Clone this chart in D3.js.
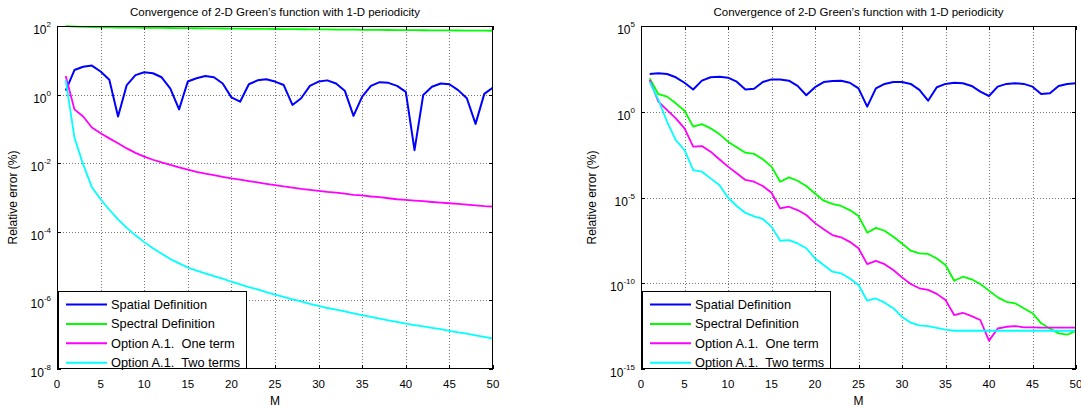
<!DOCTYPE html>
<html>
<head>
<meta charset="utf-8">
<script src="https://cdn.jsdelivr.net/npm/d3@7/dist/d3.min.js"></script>
<style>
  html, body { margin: 0; padding: 0; background: #fff; }
  svg { display: block; }
  text { font-family: "Liberation Sans", Arial, Helvetica, sans-serif; fill: #000; }
</style>
</head>
<body>
<svg id="chart" width="1081" height="408"></svg>
<script>
(function() {

  // ---- data ----
  const mValues = [1, 2, 3, 4, 5, 6, 7, 8, 9, 10, 11, 12, 13, 14, 15, 16, 17, 18, 19, 20,
    21, 22, 23, 24, 25, 26, 27, 28, 29, 30, 31, 32, 33, 34, 35, 36, 37, 38, 39, 40,
    41, 42, 43, 44, 45, 46, 47, 48, 49, 50];

  const seriesNames = ['Spatial Definition', 'Spectral Definition', 'Option A.1.  One term', 'Option A.1.  Two terms'];
  const seriesColors = ['#0000ff', '#00ff00', '#ff00ff', '#00ffff'];

  const xTicks = [0, 5, 10, 15, 20, 25, 30, 35, 40, 45, 50];
  const leftYTicks = [2, 0, -2, -4, -6, -8];      // exponents
  const rightYTicks = [5, 0, -5, -10, -15];

  const leftSpatial = [1.3, 5.2, 6.5, 7.0, 4.7, 2.7, 0.23, 1.9, 3.7, 4.5,
    4.2, 3.2, 1.5, 0.37, 2.4, 3.0, 3.5, 3.2, 2.1, 0.83,
    0.62, 2.0, 2.6, 2.8, 2.4, 1.9, 0.50, 0.78, 1.8, 2.4,
    2.6, 2.1, 1.3, 0.24, 0.87, 1.8, 2.3, 2.2, 1.8, 1.2,
    0.024, 0.98, 1.7, 2.1, 2.0, 1.35, 0.78, 0.14, 1.05, 1.6];
  const leftSpectral = [99, 96, 94, 93, 92, 91, 90.5, 90, 89.5, 89,
    88.5, 88, 87.5, 87, 86.5, 86, 85.5, 85, 84.5, 84,
    83.5, 83, 82.5, 82, 81.8, 81.5, 81, 80.5, 80, 79.6,
    79.2, 78.8, 78.4, 78, 77.6, 77.2, 76.8, 76.4, 76, 75.7,
    75.4, 75.1, 74.8, 74.5, 74.2, 73.9, 73.6, 73.3, 73.0, 72.8];
  const leftOneTerm = [3.5, 0.37, 0.23, 0.11, 0.075, 0.053, 0.038, 0.027, 0.020, 0.0156,
    0.0126, 0.0105, 0.0089, 0.0076, 0.0065, 0.0056, 0.0050, 0.0045, 0.0040, 0.0036,
    0.0033, 0.0030, 0.00275, 0.0025, 0.0023, 0.0021, 0.00195, 0.00178, 0.00166, 0.00155,
    0.00145, 0.00138, 0.00129, 0.0012, 0.00115, 0.00107, 0.00102, 0.00095, 0.00089, 0.00085,
    0.00081, 0.00078, 0.00074, 0.00071, 0.00068, 0.00065, 0.00062, 0.00059, 0.00056, 0.00054];
  const leftTwoTerms = [2.7, 0.056, 0.0091, 0.0020, 0.00089, 0.00044, 0.00023, 0.00013, 7.9e-5, 5.0e-5,
    3.3e-5, 2.3e-5, 1.6e-5, 1.2e-5, 9.1e-6, 7.4e-6, 6.1e-6, 5.1e-6, 4.3e-6, 3.5e-6,
    2.95e-6, 2.45e-6, 2.1e-6, 1.74e-6, 1.47e-6, 1.26e-6, 1.07e-6, 9.3e-7, 7.9e-7, 6.9e-7,
    6.0e-7, 5.4e-7, 4.8e-7, 4.2e-7, 3.7e-7, 3.3e-7, 2.95e-7, 2.6e-7, 2.35e-7, 2.1e-7,
    1.9e-7, 1.74e-7, 1.58e-7, 1.45e-7, 1.3e-7, 1.17e-7, 1.07e-7, 9.5e-8, 8.7e-8, 7.7e-8];

  const rightSpatial = [158, 174, 158, 102, 49, 20, 65, 102, 110, 97,
    57, 20, 22, 54, 77, 77, 65, 32, 9.1, 27,
    54, 62, 65, 49, 23, 2.0, 23, 42, 54, 54,
    42, 19, 4.4, 27, 42, 49, 46, 32, 15, 8.3,
    29, 42, 46, 42, 29, 10.7, 12, 32, 42, 46];
  const rightSpectral = [89, 10.5, 7.6, 3.1, 1.15, 0.135, 0.19, 0.108, 0.050, 0.018,
    0.0085, 0.0041, 0.0035, 0.0017, 6.3e-4, 8.3e-5, 1.5e-4, 9.5e-5, 4.7e-5, 1.7e-5,
    6.5e-6, 4.2e-6, 3.2e-6, 1.85e-6, 8.3e-7, 8.9e-8, 1.7e-7, 1.15e-7, 5.1e-8, 2.1e-8,
    7.9e-9, 5.5e-9, 5.1e-9, 2.8e-9, 1.15e-9, 1.4e-10, 2.4e-10, 1.7e-10, 9.1e-11, 3.7e-11,
    1.5e-11, 8.3e-12, 6.8e-12, 3.5e-12, 1.8e-12, 4.6e-13, 2.3e-13, 1.2e-13, 1.0e-13, 1.7e-13];
  const rightOneTerm = [71, 3.9, 1.26, 0.41, 0.108, 0.0092, 0.010, 0.0047, 0.0017, 6.3e-4,
    2.6e-4, 1.05e-4, 8.3e-5, 4.7e-5, 1.9e-5, 2.3e-6, 2.9e-6, 1.85e-6, 9.5e-7, 3.2e-7,
    1.4e-7, 6.5e-8, 4.8e-8, 2.6e-8, 1.1e-8, 1.3e-9, 2.0e-9, 1.3e-9, 5.9e-10, 2.2e-10,
    9.1e-11, 5.1e-11, 4.1e-11, 2.4e-11, 1.05e-11, 1.4e-12, 1.9e-12, 1.2e-12, 7.2e-13, 4.5e-14,
    2.3e-13, 2.9e-13, 3.2e-13, 2.7e-13, 2.7e-13, 2.6e-13, 2.6e-13, 2.6e-13, 2.6e-13, 2.6e-13];
  const rightTwoTerms = [56, 4.9, 0.26, 0.022, 0.0059, 4.0e-4, 3.2e-4, 1.3e-4, 5.4e-5, 1.0e-5,
    3.2e-6, 1.26e-6, 8.0e-7, 5.6e-7, 2.0e-7, 3.0e-8, 3.3e-8, 2.1e-8, 1.1e-8, 2.8e-9,
    1.15e-9, 4.7e-10, 3.8e-10, 1.9e-10, 7.9e-11, 9.6e-12, 1.3e-11, 7.4e-12, 3.5e-12, 1.1e-12,
    5.0e-13, 3.5e-13, 3.2e-13, 2.5e-13, 2.0e-13, 1.7e-13, 1.7e-13, 1.7e-13, 1.7e-13, 1.7e-13,
    1.7e-13, 1.7e-13, 1.7e-13, 1.7e-13, 1.7e-13, 1.7e-13, 1.7e-13, 1.7e-13, 1.7e-13, 1.7e-13];

  const titleText = 'Convergence of 2-D Green\u2019s function with 1-D periodicity';

  const svg = d3.select('#chart');

  function drawPanel(box, yExps, series) {
    const g = svg.append('g');
    const x = d3.scaleLinear().domain([0, 50]).range([box.left, box.right]);
    const y = d3.scaleLog()
      .domain([Math.pow(10, yExps[yExps.length - 1]), Math.pow(10, yExps[0])])
      .range([box.bottom, box.top]);

    // grid (dotted, MATLAB style)
    const grid = g.append('g').attr('stroke', '#777').attr('stroke-width', 1)
      .attr('stroke-dasharray', '1,2');
    xTicks.slice(1, -1).forEach((t) => {
      grid.append('line')
        .attr('x1', Math.round(x(t)) + 0.5).attr('x2', Math.round(x(t)) + 0.5)
        .attr('y1', box.top).attr('y2', box.bottom);
    });
    yExps.slice(1, -1).forEach((e) => {
      const yy = Math.round(y(Math.pow(10, e))) + 0.5;
      grid.append('line').attr('x1', box.left).attr('x2', box.right)
        .attr('y1', yy).attr('y2', yy);
    });

    // series lines
    const clipId = 'clip' + box.left;
    svg.append('defs').append('clipPath').attr('id', clipId)
      .append('rect').attr('x', box.left).attr('y', box.top - 1)
      .attr('width', box.right - box.left).attr('height', box.bottom - box.top + 1);

    const line = d3.line()
      .x((d, i) => x(mValues[i]))
      .y((d) => y(d));

    const lines = g.append('g').attr('clip-path', `url(#${clipId})`);
    series.forEach((s, i) => {
      lines.append('path')
        .datum(s)
        .attr('d', line)
        .attr('fill', 'none')
        .attr('stroke', seriesColors[i])
        .attr('stroke-width', i === 0 ? 2 : 1.8)
        .attr('stroke-linejoin', 'round');
    });

    // axes box + inward ticks
    const axisG = g.append('g').attr('stroke', '#000').attr('stroke-width', 1);
    axisG.append('rect')
      .attr('x', box.left + 0.5).attr('y', box.top + 0.5)
      .attr('width', box.right - box.left - 1).attr('height', box.bottom - box.top - 1)
      .attr('fill', 'none');
    xTicks.forEach((t) => {
      const xx = Math.round(x(t)) + 0.5;
      axisG.append('line').attr('x1', xx).attr('x2', xx).attr('y1', box.bottom).attr('y2', box.bottom - 4);
      axisG.append('line').attr('x1', xx).attr('x2', xx).attr('y1', box.top).attr('y2', box.top + 4);
    });
    yExps.forEach((e) => {
      const yy = Math.round(y(Math.pow(10, e))) + 0.5;
      axisG.append('line').attr('x1', box.left).attr('x2', box.left + 4).attr('y1', yy).attr('y2', yy);
      axisG.append('line').attr('x1', box.right - 4).attr('x2', box.right).attr('y1', yy).attr('y2', yy);
    });

    // tick labels
    xTicks.forEach((t) => {
      g.append('text')
        .attr('x', x(t)).attr('y', box.bottom + 19)
        .attr('text-anchor', 'middle')
        .style('font-size', '11.5px')
        .text(t);
    });
    yExps.forEach((e) => {
      const yy = y(Math.pow(10, e));
      const t = g.append('text')
        .attr('x', box.left - 6).attr('y', yy + 8)
        .attr('text-anchor', 'end')
        .style('font-size', '12px');
      t.append('tspan').text('10');
      t.append('tspan').attr('dy', -7).style('font-size', '8px').text(e);
    });

    // labels and title
    g.append('text')
      .attr('x', (box.left + box.right) / 2).attr('y', 16)
      .attr('text-anchor', 'middle')
      .style('font-size', '11.5px')
      .text(titleText);
    g.append('text')
      .attr('x', (box.left + box.right) / 2).attr('y', box.bottom + 36)
      .attr('text-anchor', 'middle')
      .style('font-size', '12px')
      .text('M');
    g.append('text')
      .attr('transform', `translate(${box.left - box.ylabelGap},${(box.top + box.bottom) / 2}) rotate(-90)`)
      .attr('text-anchor', 'middle')
      .style('font-size', '12px')
      .text('Relative error (%)');

    // legend, bottom-left corner
    const lg = g.append('g');
    const legTop = 291.5;
    lg.append('rect')
      .attr('x', box.left + 1.5).attr('y', legTop)
      .attr('width', 188).attr('height', box.bottom - legTop - 0.5)
      .attr('fill', '#fff').attr('stroke', '#000').attr('stroke-width', 1);
    seriesNames.forEach((name, i) => {
      const yy = legTop + 13 + i * 19.4;
      lg.append('line')
        .attr('x1', box.left + 9).attr('x2', box.left + 50)
        .attr('y1', yy).attr('y2', yy)
        .attr('stroke', seriesColors[i]).attr('stroke-width', 2);
      lg.append('text')
        .attr('x', box.left + 54).attr('y', yy + 4.5)
        .style('font-size', '12.8px')
        .style('white-space', 'pre')
        .attr('xml:space', 'preserve')
        .text(name);
    });
  }

  drawPanel({left: 57, right: 493, top: 26, bottom: 369, ylabelGap: 40}, leftYTicks,
    [leftSpatial, leftSpectral, leftOneTerm, leftTwoTerms]);
  drawPanel({left: 641, right: 1076, top: 26, bottom: 369, ylabelGap: 45}, rightYTicks,
    [rightSpatial, rightSpectral, rightOneTerm, rightTwoTerms]);

})();
</script>
</body>
</html>
